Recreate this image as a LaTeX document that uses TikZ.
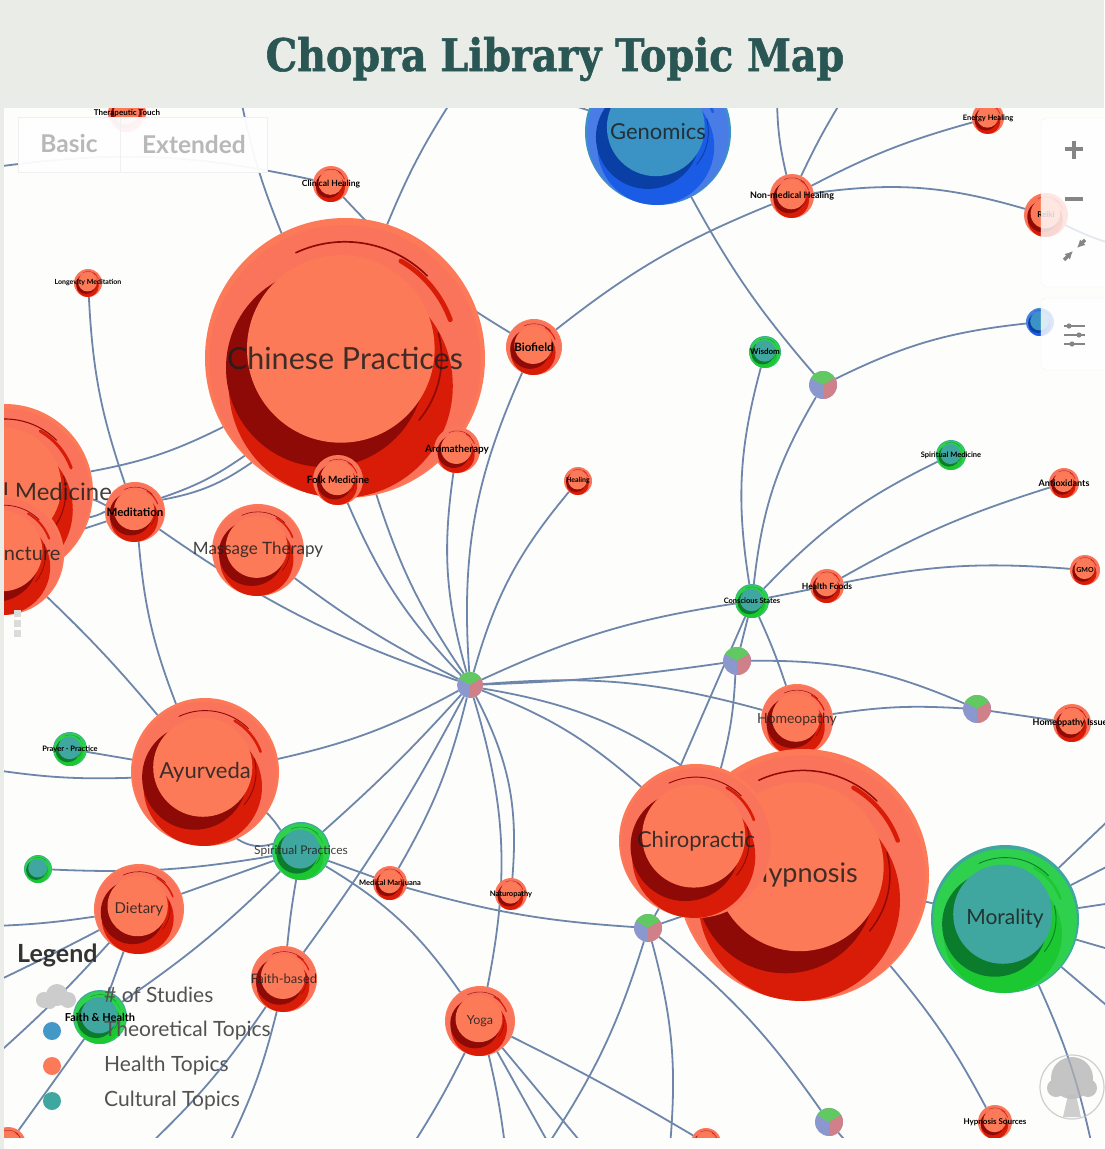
\documentclass[tikz,border=0pt]{standalone}
\usepackage{fontspec}
\setmainfont{Lato}
\newfontfamily\titlefont[FakeStretch=0.88,BoldFeatures={FakeBold=1.2}]{DejaVu Serif}
\usetikzlibrary{arrows.meta}
\definecolor{pagegrey}{HTML}{E9ECE7}
\definecolor{mapwhite}{HTML}{FDFDFC}
\definecolor{titleteal}{HTML}{2A5654}
\definecolor{linkblue}{HTML}{6E86AA}
\definecolor{healthbase}{HTML}{FC7A58}
\definecolor{healthrim}{HTML}{F9745A}
\definecolor{healthmid}{HTML}{D91C08}
\definecolor{healthdark}{HTML}{8E0A06}
\definecolor{culturebase}{HTML}{3FA79F}
\definecolor{culturerim}{HTML}{2ED04E}
\definecolor{culturemid}{HTML}{1CC832}
\definecolor{culturedark}{HTML}{0B7C2C}
\definecolor{theorybase}{HTML}{3A93C4}
\definecolor{theoryrim}{HTML}{4A7CE6}
\definecolor{theorymid}{HTML}{1A5CE6}
\definecolor{theorydark}{HTML}{0A3FA6}
\definecolor{piegreen}{HTML}{62C962}
\definecolor{pieblue}{HTML}{8B98CE}
\definecolor{piepink}{HTML}{CF8088}
\pgfdeclarelayer{linklayer}
\pgfsetlayers{linklayer,main}
\tikzset{
  topicnode/.style={circle,inner sep=0pt,outer sep=0pt},
  toptext/.style={inner sep=0pt,text=black!88,text opacity=.85},
  smalltext/.style={inner sep=0pt,text=black},
  linkline/.style={draw=linkblue,line width=1.8pt},
  legendtext/.style={anchor=west,inner sep=0pt,text=black!68,font=\fontsize{21}{22}\selectfont},
  legenddot/.style={circle,inner sep=0pt,minimum size=18pt},
  paneltext/.style={inner sep=0pt,text=black!28,font=\fontsize{24.5}{25}\selectfont\bfseries},
  icon/.style={draw=black!48,line width=3.6pt}
}
% scheme, name, x, y, radius, label, font size
\newcommand{\Topic}[7]{%
  \node[topicnode,fill=#1base,minimum size=2*#5*1pt] (#2) at (#3,#4) {};
  \begin{scope}[shift={(#3,#4)},scale=#5]
    \clip (0,0) circle (1);
    \fill[#1rim] (0,.02) circle (.97);
    \fill[#1mid] (-.03,.2) circle (.8);
    \fill[#1dark] (-.14,.07) circle (.71);
    \fill[#1dark] (-.76,-.1) -- (-.69,-.33) -- (-.55,-.1) -- cycle;
    \fill[#1base] (-.03,-.065) circle (.67);
    \draw[#1mid,line width=#5*.035pt,line cap=round] (-60:.8) arc (-60:-20:.8);
    \draw[#1dark,line width=#5*.012pt,line cap=round] (-115:.83) arc (-115:-45:.83);
    \draw[#1dark,line width=#5*.012pt,line cap=round] (40:.69) arc (40:-15:.69);
  \end{scope}
  \ifdim#7pt<12pt
    \node[smalltext,font=\fontsize{#7}{#7}\selectfont\bfseries] (#2-text) at (#2) {#6};
  \else
    \node[toptext,font=\fontsize{#7}{#7}\selectfont] (#2-text) at (#2) {#6};
  \fi
}
% three wedge node
\newcommand{\Mix}[4]{%
  \node[topicnode,fill=pieblue,minimum size=2*#4*1pt] (#1) at (#2,#3) {};
  \fill[piegreen,shift={(#2,#3)}] (0,0) -- (-150:#4) arc (-150:-30:#4) -- cycle;
  \fill[piepink,shift={(#2,#3)}] (0,0) -- (-30:#4) arc (-30:90:#4) -- cycle;
}
\begin{document}
\begin{tikzpicture}[x=1pt,y=-1pt]
\useasboundingbox (0,0) rectangle (1104,1149);

%%%%%%%%%%%%%%%%% topics %%%%%%%%%%%%%%%%%%%
\foreach \sch/\nm/\xx/\yy/\rr/\lbl/\fs in {
  health/therapeutic/127/113/19/Therapeutic Touch/8,
  health/clinical/331/184/18/Clinical Healing/8.5,
  health/longevity/88/283/14/Longevity Meditation/7,
  health/chinese/345/358/140/Chinese Practices/30.5,
  health/biofield/534/347/28/Biofield/11.5,
  health/traditional/5/492/88/Traditional Medicine/24,
  health/acupuncture/4/555/60/Acupuncture/20,
  health/massage/258/550/46/Massage Therapy/17,
  health/aroma/457/450/23/Aromatherapy/10,
  health/folk/338/480/25/Folk Medicine/10,
  health/healing/578/481/14/Healing/7,
  health/meditation/135/512/30/Meditation/11.5,
  health/ayurveda/205/772/74/Ayurveda/22,
  health/dietary/139/909/45/Dietary/15,
  health/faithbased/284/979/33/Faith-based/13,
  health/medmarij/390/883/17/Medical Marijuana/7.5,
  health/naturo/511/894/16/Naturopathy/7.5,
  health/yoga/480/1021/35/Yoga/12.5,
  health/homeopathy/797/720/36/Homeopathy/14,
  health/hypnosis/803/875/126/Hypnosis/27,
  health/chiropractic/696/841/77/Chiropractic/22,
  health/nonmedical/792/196/22/Non-medical Healing/9,
  health/energy/988/118/16/Energy Healing/7.5,
  health/reiki/1046/215/22/Reiki/8,
  health/antiox/1064/483/15/Antioxidants/9,
  health/gmo/1085/570/15/GMO/7,
  health/foods/827/586/17/Health Foods/8.5,
  health/homeoissue/1072/723/19/Homeopathy Issues/9,
  health/hypnosource/995/1122/17/Hypnosis Sources/8,
  health/cornerleft/8/1145/18//7,
  health/cornermid/706/1143/15//7,
  culture/conscious/752/601/17/Conscious States/7.5,
  culture/spiritmed/951/455/15/Spiritual Medicine/7.5,
  culture/wisdom/765/352/16/Wisdom/8,
  culture/prayer/70/749/17/Prayer - Practice/7.5,
  culture/unlabeled/38/869/14//7,
  culture/spiritual/301/851/29/Spiritual Practices/12,
  culture/faithhealth/100/1017/27/Faith \& Health/11,
  culture/morality/1005/919/74/Morality/21,
  theory/genomics/658/132/73/Genomics/22,
  theory/paleblue/1040/322/14//7}
  {\Topic{\sch}{\nm}{\xx}{\yy}{\rr}{\lbl}{\fs}}

%%%%%%%%%%%%%%%%% pies %%%%%%%%%%%%%%%%%%%%%
\foreach \nm/\xx/\yy/\rr in {hub/470/685/13,pieB/823/385/14,pieC/737/661/14,
    pieD/977/709/14,pieE/648/928/14,pieF/829/1122/14}
  {\Mix{\nm}{\xx}{\yy}{\rr}}

%%%%%%%%%%%%%%%%% free ends %%%%%%%%%%%%%%%%
\foreach \nm/\xx/\yy in {endA/452/100,endB/241/100,endC/-5/167,endD/565/103,endE/777/100,
    endF/842/100,endG/1112/244,endH/-5/385,endI/-5/770,endJ/-5/926,endK/-5/982,
    endL/-5/1056,endM/148/1146,endN/228/1146,endO/412/1146,endP/505/1146,endQ/550/1146,
    endR/584/1146,endS/547/1146,endT/670/1146,endU/850/1146,endV/1112/817,endW/1112/864,
    endX/1112/903,endY/1112/950,endZ/1112/1010,endAA/1092/1146,endAB/670/790}
  {\coordinate (\nm) at (\xx,\yy);}

%%%%%%%%%%%%%%%%% edges %%%%%%%%%%%%%%%%%%%%
\begin{pgfonlayer}{linklayer}
\fill[mapwhite] (0,0) rectangle (1104,1149);
\foreach \aa/\bb/\ang in {
  hub/biofield/14,hub/aroma/12,hub/folk/10,hub/chinese/8,hub/healing/12,hub/conscious/8,
  hub/pieC/-3,hub/homeopathy/10,hub/chiropractic/10,hub/hypnosis/14,hub/ayurveda/8,
  hub/spiritual/3,hub/medmarij/8,hub/faithbased/4,hub/yoga/14,hub/naturo/16,hub/massage/5,
  hub/meditation/8,spiritual/yoga/12,spiritual/medmarij/0,medmarij/pieE/-6,
  pieE/chiropractic/0,pieE/hypnosis/0,pieE/pieF/8,pieE/endS/8,pieE/endT/10,
  yoga/endO/3,yoga/endP/3,yoga/endQ/0,yoga/endR/0,yoga/cornermid/2,
  conscious/pieB/12,conscious/wisdom/12,conscious/spiritmed/10,conscious/foods/0,
  conscious/endAB/0,conscious/homeopathy/3,conscious/pieC/0,pieC/chiropractic/6,
  foods/antiox/6,foods/gmo/8,pieC/pieD/12,homeopathy/pieD/6,pieD/homeoissue/0,
  pieB/paleblue/10,pieB/genomics/6,biofield/nonmedical/8,nonmedical/endE/6,nonmedical/endF/3,
  nonmedical/energy/6,nonmedical/reiki/12,reiki/endG/-4,genomics/endD/0,
  biofield/clinical/8,chinese/endA/5,chinese/endB/5,clinical/endC/-10,
  longevity/meditation/-8,meditation/chinese/-8,meditation/chinese/-12,traditional/chinese/-8,
  meditation/traditional/8,meditation/traditional/-4,meditation/acupuncture/0,endH/traditional/0,
  meditation/ayurveda/-8,acupuncture/ayurveda/3,ayurveda/prayer/0,ayurveda/endI/5,
  ayurveda/spiritual/6,ayurveda/spiritual/-25,unlabeled/spiritual/-6,dietary/spiritual/0,
  dietary/endJ/3,dietary/endK/1,dietary/endL/3,dietary/faithhealth/0,spiritual/faithhealth/5,
  spiritual/faithbased/-2,faithhealth/cornerleft/0,faithbased/endM/6,faithbased/endN/6,
  hypnosis/morality/0,hypnosis/hypnosource/6,morality/endV/0,morality/endW/0,morality/endX/0,
  morality/endY/0,morality/endZ/0,morality/endAA/6,pieF/endU/0}
  {\draw[linkline] (\aa) to[bend left=\ang] (\bb);}
\end{pgfonlayer}

%%%%%%%%%%%%%%%%% controls %%%%%%%%%%%%%%%%%
\fill[white,opacity=.95] (18,117) rectangle (267,172);
\draw[black!6] (18,117) rectangle (267,172) (120,117) -- (120,172);
\node[paneltext] (basic) at (69,144) {Basic};
\node[paneltext] (extended) at (194,144) {Extended};
\fill[white,opacity=.82,rounded corners=5pt] (1041,118) rectangle (1110,287);
\fill[white,opacity=.82,rounded corners=5pt] (1041,298) rectangle (1110,370);
\draw[black!5,rounded corners=5pt] (1041,118) rectangle (1110,287) (1041,298) rectangle (1110,370);
\draw[icon] (1074,141) -- (1074,159) (1065,149) -- (1083,149);
\draw[icon] (1065,199) -- (1083,199);
\draw[icon,line width=3.4pt,-{Latex[length=8pt,width=8pt]}] (1064,260) -- (1073,251);
\draw[icon,line width=3.4pt,-{Latex[length=8pt,width=8pt]}] (1085,240) -- (1077,248);
\foreach \yy/\xx in {326/1069,335/1079,344/1072}
  {\draw[icon,line width=1.6pt] (1064,\yy) -- (1085,\yy);
   \fill[black!48] (\xx,\yy) circle (2.6);}
\foreach \yy in {613,623,633}
  {\fill[black!14] (14,\yy-3) rectangle (21,\yy+4);}

%%%%%%%%%%%%%%%%% legend %%%%%%%%%%%%%%%%%%%
\node[anchor=west,inner sep=0pt,text=black!80,font=\fontsize{25}{26}\selectfont\bfseries] (legend) at (17,955) {Legend};
\fill[black!20] (44,1000) circle (8) (57,995) circle (11) (68,1000) circle (8) (50,1003) circle (6);
\node[legendtext] (studies) at (104,995) {\# of Studies};
\node[legenddot,fill=theorybase!95!white] (dotA) at (52,1031) {};
\node[legenddot,fill=healthbase] (dotB) at (52,1066) {};
\node[legenddot,fill=culturebase] (dotC) at (52,1101) {};
\node[legendtext] (theorylbl) at (104,1031) {Theoretical Topics};
\node[legendtext] (healthlbl) at (104,1066) {Health Topics};
\node[legendtext] (culturelbl) at (104,1101) {Cultural Topics};

%%%%%%%%%%%%%%%%% logo %%%%%%%%%%%%%%%%%%%%%
\begin{scope}[opacity=.75]
\draw[black!25,line width=1.2pt] (1072,1087) circle (32);
\fill[black!30] (1072,1078) circle (21) (1056,1088) circle (9) (1088,1088) circle (9);
\fill[black!25] (1068,1095) -- (1076,1095) -- (1081,1117) -- (1063,1117) -- cycle;
\end{scope}

%%%%%%%%%%%%%%%%% page %%%%%%%%%%%%%%%%%%%%%
\fill[pagegrey] (0,0) rectangle (1104,108);
\fill[pagegrey] (0,108) rectangle (4,1149);
\fill[mapwhite] (4,1138) rectangle (1104,1149);
\node[inner sep=0pt,text=titleteal,font=\titlefont\fontsize{45}{46}\selectfont\bfseries] (title) at (555,59) {Chopra Library Topic Map};
\end{tikzpicture}
\end{document}
